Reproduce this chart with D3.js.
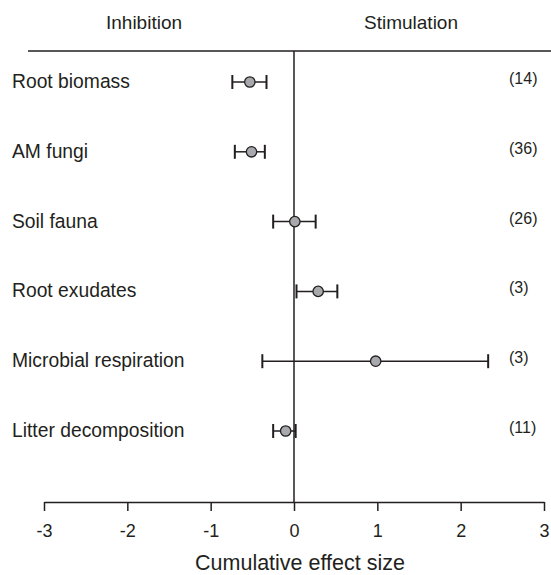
<!DOCTYPE html>
<html><head><meta charset="utf-8">
<script src="https://cdn.jsdelivr.net/npm/d3@7"></script>
<style>body{margin:0;background:#fff}svg{display:block}text{font-family:"Liberation Sans",Arial,sans-serif;fill:#231f20}</style>
</head><body>
<script>
const categories = ["Root biomass","AM fungi","Soil fauna","Root exudates","Microbial respiration","Litter decomposition"];
const means = [-0.53, -0.51, 0.01, 0.29, 0.98, -0.10];
const lower = [-0.74, -0.71, -0.25, 0.03, -0.38, -0.25];
const upper = [-0.33, -0.35, 0.26, 0.52, 2.33, 0.02];
const counts = ["(14)","(36)","(26)","(3)","(3)","(11)"];
const ticks = [-3,-2,-1,0,1,2,3];
const ink = "#231f20";

const W = 551, H = 575;
const svg = d3.select("body").append("svg").attr("width", W).attr("height", H);
const x = d3.scaleLinear().domain([-3, 3]).range([44, 544]);
const y = d3.scalePoint().domain(categories).range([82, 431]);
const topY = 51, axisY = 502;

// header
svg.append("text").attr("x", 144).attr("y", 29).attr("text-anchor", "middle").attr("font-size", 19).text("Inhibition");
svg.append("text").attr("x", 411).attr("y", 29).attr("text-anchor", "middle").attr("font-size", 19).text("Stimulation");
svg.append("line").attr("x1", 28).attr("x2", W).attr("y1", topY).attr("y2", topY).attr("stroke", ink).attr("stroke-width", 1.5);

// zero line
svg.append("line").attr("x1", x(0)).attr("x2", x(0)).attr("y1", topY).attr("y2", axisY).attr("stroke", ink).attr("stroke-width", 1.5);

// axis
const ax = svg.append("g").attr("transform", `translate(0,${axisY})`)
  .call(d3.axisBottom(x).tickValues(ticks).tickSize(9).tickPadding(13).tickSizeOuter(0).tickFormat(d3.format("d")));
ax.select(".domain").attr("stroke", ink).attr("stroke-width", 1.5);
ax.selectAll(".tick line").attr("stroke", ink).attr("stroke-width", 1.5);
ax.selectAll(".tick text").attr("font-size", 18).attr("font-family", '"Liberation Sans",Arial,sans-serif').attr("fill", ink);
ax.selectAll(".tick text").text(d => d < 0 ? "-" + Math.abs(d) : d);

svg.append("text").attr("x", 300).attr("y", 570).attr("text-anchor", "middle").attr("font-size", 21.5).text("Cumulative effect size");

// rows
const rows = svg.append("g").selectAll("g").data(categories).join("g");
rows.append("text").attr("x", 12).attr("y", d => y(d) + 6).attr("font-size", 19.3).text(d => d);
rows.append("text").attr("x", 509).attr("y", (d, i) => y(d) + 2).attr("font-size", 16).text((d, i) => counts[i]);
rows.append("line").attr("x1", (d, i) => x(lower[i])).attr("x2", (d, i) => x(upper[i]))
  .attr("y1", d => y(d)).attr("y2", d => y(d)).attr("stroke", ink).attr("stroke-width", 1.5);
rows.append("line").attr("x1", (d, i) => x(lower[i])).attr("x2", (d, i) => x(lower[i]))
  .attr("y1", d => y(d) - 7).attr("y2", d => y(d) + 7).attr("stroke", ink).attr("stroke-width", 2);
rows.append("line").attr("x1", (d, i) => x(upper[i])).attr("x2", (d, i) => x(upper[i]))
  .attr("y1", d => y(d) - 7).attr("y2", d => y(d) + 7).attr("stroke", ink).attr("stroke-width", 2);
rows.append("circle").attr("cx", (d, i) => x(means[i])).attr("cy", d => y(d)).attr("r", 5.2)
  .attr("fill", "#a7a9ac").attr("stroke", ink).attr("stroke-width", 1.3);
</script>
</body></html>
